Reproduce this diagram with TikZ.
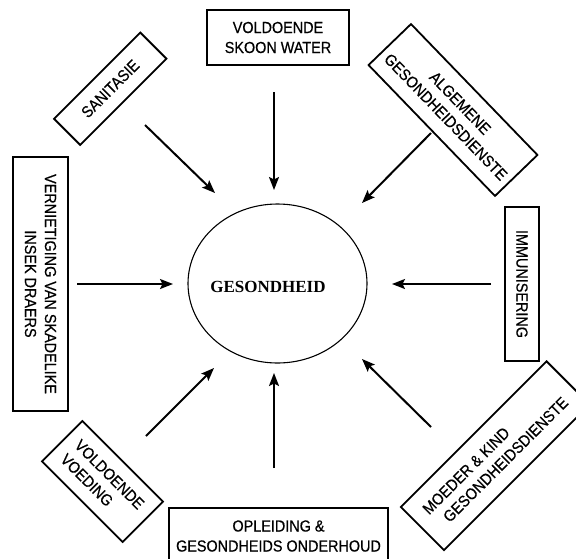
\documentclass[tikz,border=0pt]{standalone}
\usepackage{fontspec}
\setmainfont{Liberation Sans}[FakeStretch=0.9, FakeBold=0.5]
\newfontfamily\timesfont{Liberation Serif}
\usetikzlibrary{arrows.meta,shapes.geometric}
\begin{document}
\begin{tikzpicture}[x=1pt,y=-1pt,
  box/.style={draw, line width=1.8pt, font=\fontsize{16}{20}\selectfont, align=center, inner sep=2pt},
  arr/.style={line width=2pt, -{Stealth[length=13pt,width=10pt,inset=2.5pt]}}]
\useasboundingbox (0,0) rectangle (576,558);
\clip (0,0) rectangle (576,558);
\fill[white] (0,0) rectangle (576,558);

% centre
\node[ellipse, draw, line width=1.1pt, minimum width=179pt, minimum height=159pt] (g) at (277.5,283.5) {};
\node[font=\timesfont\bfseries\fontsize{17}{20}\selectfont, inner sep=0pt] (gt) at (268,287) {GESONDHEID};

% boxes
\node[box, minimum width=142pt, minimum height=55pt] (water) at (278,37.5) {VOLDOENDE\\SKOON WATER};
\node[box, rotate=45, minimum width=122pt, minimum height=37pt] (san) at (110.25,88.75) {SANITASIE};
\node[box, rotate=-46, minimum width=182pt, minimum height=59pt] (alg) at (453,110) {ALGEMENE\\GESONDHEIDSDIENSTE};
\node[box, rotate=-90, minimum width=154pt, minimum height=34pt] (imm) at (522,284) {IMMUNISERING};
\node[box, rotate=45, minimum width=206pt, minimum height=61pt, align=left] (moe) at (495.3,455.7) {MOEDER \& KIND\\\hspace*{9pt}GESONDHEIDSDIENSTE};
\node[box, minimum width=219pt, minimum height=56pt] (opl) at (278.5,536) {OPLEIDING \&\\GESONDHEIDS ONDERHOUD};
\node[box, rotate=-45, minimum width=114pt, minimum height=57pt, align=left] (voe) at (102.5,481.5) {VOLDOENDE\\VOEDING};
\node[box, rotate=-90, minimum width=254pt, minimum height=55pt] (ver) at (40.5,284) {VERNIETIGING VAN SKADELIKE\\INSEK DRAERS};

% arrow ends
\coordinate (s1) at (274,92);   \coordinate (e1) at (274,190);
\coordinate (s2) at (145,125);  \coordinate (e2) at (215,193);
\coordinate (s3) at (431,133);  \coordinate (e3) at (362,203);
\coordinate (s4) at (491,284);  \coordinate (e4) at (392,284);
\coordinate (s5) at (431,427);  \coordinate (e5) at (362,359);
\coordinate (s6) at (274,468);  \coordinate (e6) at (274,373);
\coordinate (s7) at (146,436);  \coordinate (e7) at (214,368);
\coordinate (s8) at (77,284);   \coordinate (e8) at (173,284);

\foreach \i in {1,...,8} {\draw[arr] (s\i) -- (e\i);}
\end{tikzpicture}
\end{document}
